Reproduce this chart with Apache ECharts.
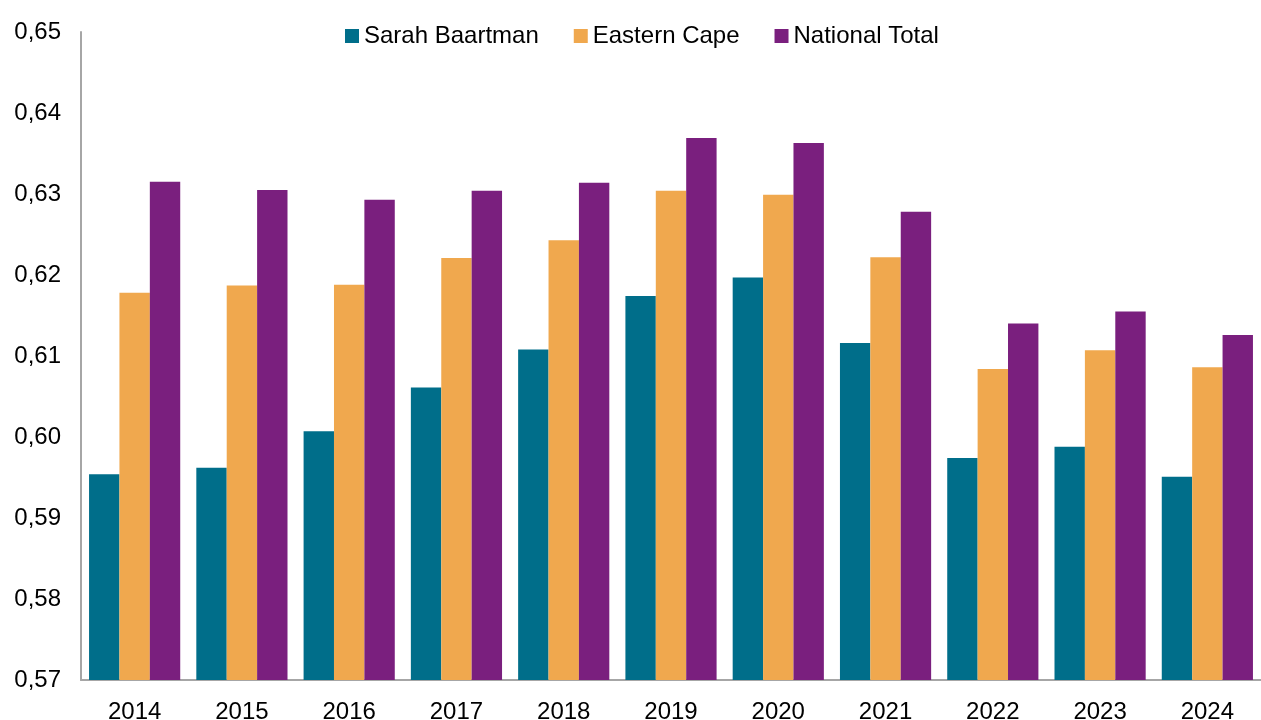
<!DOCTYPE html>
<html>
<head>
<meta charset="utf-8">
<title>Sarah Baartman vs Eastern Cape vs National</title>
<script src="https://cdn.jsdelivr.net/npm/echarts@6/dist/echarts.min.js"></script>
<style>
  html, body { margin: 0; padding: 0; background: #ffffff; }
  #chart { width: 1261px; height: 720px; }
</style>
</head>
<body>
<div id="chart"></div>
<script>
// Data
var years = ['2014', '2015', '2016', '2017', '2018', '2019', '2020', '2021', '2022', '2023', '2024'];
var sarahBaartman = [0.5954, 0.5962, 0.6007, 0.6061, 0.6108, 0.6174, 0.6197, 0.6116, 0.5974, 0.5988, 0.5951];
var easternCape   = [0.6178, 0.6187, 0.6188, 0.6221, 0.6243, 0.6304, 0.6299, 0.6222, 0.6084, 0.6107, 0.6086];
var nationalTotal = [0.6315, 0.6305, 0.6293, 0.6304, 0.6314, 0.6369, 0.6363, 0.6278, 0.6140, 0.6155, 0.6126];
var seriesNames = ['Sarah Baartman', 'Eastern Cape', 'National Total'];
var seriesColors = ['#006E8A', '#F0A84E', '#7A1F7E'];

var chart = echarts.init(document.getElementById('chart'));

var font = 'Arial, "Liberation Sans", sans-serif';

var makeBar = function (name, values, color) {
    return {
        name: name,
        type: 'bar',
        data: values,
        barGap: '0%',
        barCategoryGap: '15%',
        itemStyle: { color: color },
        emphasis: { disabled: true }
    };
};

var option = {
    animation: false,
    backgroundColor: '#ffffff',
    textStyle: { fontFamily: font },
    legend: {
        top: 19,
        left: 340,
        itemWidth: 14,
        itemHeight: 14,
        itemGap: 35,
        icon: 'rect',
        textStyle: { fontSize: 24, color: '#000' },
        data: seriesNames
    },
    grid: {
        left: 81,
        right: 0,
        top: 32,
        bottom: 40,
        outerBoundsMode: 'none'
    },
    xAxis: {
        type: 'category',
        data: years,
        axisLine: { lineStyle: { color: '#a6a6a6', width: 2 } },
        axisTick: { show: false },
        axisLabel: { fontSize: 24, color: '#000', margin: 20 }
    },
    yAxis: {
        type: 'value',
        min: 0.57,
        max: 0.65,
        interval: 0.01,
        splitLine: { show: false },
        axisLine: { show: true, lineStyle: { color: '#a6a6a6', width: 2 } },
        axisTick: { show: false },
        axisLabel: {
            fontSize: 24,
            color: '#000',
            margin: 20,
            formatter: function (v) {
                return v.toFixed(2).replace('.', ',');
            }
        }
    },
    series: [
        makeBar(seriesNames[0], sarahBaartman, seriesColors[0]),
        makeBar(seriesNames[1], easternCape, seriesColors[1]),
        makeBar(seriesNames[2], nationalTotal, seriesColors[2])
    ]
};

chart.setOption(option);
window.addEventListener('resize', function () { chart.resize(); });
</script>
</body>
</html>
